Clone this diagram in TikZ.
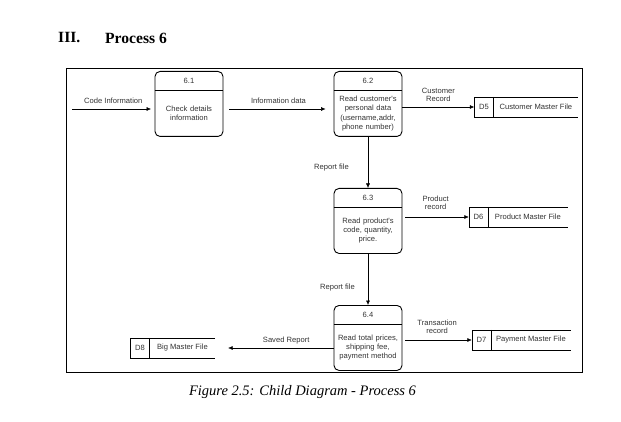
\documentclass[tikz,border=0pt]{standalone}
\usepackage{fontspec}
\setmainfont{Liberation Serif}
\newfontfamily\diafont{Liberation Sans}
\usetikzlibrary{arrows.meta,positioning,calc}
\definecolor{inkgrey}{HTML}{333333}

\begin{document}
\begin{tikzpicture}[
    x=1pt, y=-1pt,
    proc/.style={rectangle, draw=black, line width=0.9pt, rounded corners=5pt, minimum width=68pt, minimum height=65pt, inner sep=0pt},
    pnum/.style={text width=68pt, minimum height=19pt, inner sep=0pt, align=center, font=\diafont\fontsize{7.6}{9}\selectfont, text=inkgrey},
    ptxt/.style={text width=66pt, minimum height=46pt, inner sep=0pt, align=center, font=\diafont\fontsize{7.6}{9.2}\selectfont, text=inkgrey},
    sid/.style={rectangle, minimum width=19pt, minimum height=20pt, inner sep=0pt, font=\diafont\fontsize{7.6}{9}\selectfont, text=inkgrey},
    sname/.style={minimum height=20pt, inner sep=0pt, font=\diafont\fontsize{7.6}{9}\selectfont, text=inkgrey},
    sline/.style={draw=black, line width=0.5pt},
    flow/.style={-{Latex[length=4.5pt,width=4pt]}, line width=0.5pt, draw=black},
    lbl/.style={font=\diafont\fontsize{7.6}{8.6}\selectfont, text=inkgrey, align=center, inner sep=1pt}
]
  \useasboundingbox (0,0) rectangle (621,422);

  % heading and caption
  \node[anchor=west, inner sep=0pt, font=\fontsize{15.6}{18}\selectfont\bfseries] (sec) at (58,38) {III.};
  \node[anchor=west, inner sep=0pt, font=\fontsize{15.6}{18}\selectfont\bfseries] (ttl) at (105,38) {Process 6};
  \node[inner sep=0pt, font=\fontsize{14.5}{17}\selectfont\itshape] (cap) at (302.5,392) {Figure 2.5: Child Diagram - Process 6};

  % frame
  \node[draw=black, line width=1.3pt, minimum width=516pt, minimum height=304pt, inner sep=0pt, anchor=north west] (frame) at (66,68) {};

  % processes
  \node[proc, anchor=north] (p61) at (189,71) {};
  \node[pnum, below=0pt of p61.north] (n61) {6.1};
  \draw[line width=0.9pt] (n61.south -| p61.west) -- (n61.south -| p61.east);
  \node[ptxt, below=0pt of n61] (t61) {Check details\\information};

  \node[proc, anchor=north] (p62) at (368,71) {};
  \node[pnum, below=0pt of p62.north] (n62) {6.2};
  \draw[line width=0.9pt] (n62.south -| p62.west) -- (n62.south -| p62.east);
  \node[ptxt, below=0pt of n62] (t62) {Read customer's\\personal data\\(username,addr,\\phone number)};

  \node[proc, anchor=north] (p63) at (368,188) {};
  \node[pnum, below=0pt of p63.north] (n63) {6.3};
  \draw[line width=0.9pt] (n63.south -| p63.west) -- (n63.south -| p63.east);
  \node[ptxt, below=0pt of n63] (t63) {Read product's\\code, quantity,\\price.};

  \node[proc, anchor=north] (p64) at (368,305) {};
  \node[pnum, below=0pt of p64.north] (n64) {6.4};
  \draw[line width=0.9pt] (n64.south -| p64.west) -- (n64.south -| p64.east);
  \node[ptxt, below=0pt of n64] (t64) {Read total prices,\\shipping fee,\\payment method};

  % data stores (open on the right)
  \node[sid] (d5) at (484,107) {D5};
  \node[sname, minimum width=84pt, right=0pt of d5] (d5n) {Customer Master File};
  \draw[sline] (d5n.north east) -- (d5.north west) -- (d5.south west) -- (d5n.south east) (d5.north east) -- (d5.south east);

  \node[sid] (d6) at (478.5,217) {D6};
  \node[sname, minimum width=79pt, right=0pt of d6] (d6n) {Product Master File};
  \draw[sline] (d6n.north east) -- (d6.north west) -- (d6.south west) -- (d6n.south east) (d6.north east) -- (d6.south east);

  \node[sid] (d7) at (481.5,340) {D7};
  \node[sname, minimum width=79pt, right=0pt of d7] (d7n) {Payment Master File};
  \draw[sline] (d7n.north east) -- (d7.north west) -- (d7.south west) -- (d7n.south east) (d7.north east) -- (d7.south east);

  \node[sid] (d8) at (140,348) {D8};
  \node[sname, minimum width=65pt, right=0pt of d8] (d8n) {Big Master File};
  \draw[sline] (d8n.north east) -- (d8.north west) -- (d8.south west) -- (d8n.south east) (d8.north east) -- (d8.south east);

  % data flows
  \coordinate (cin) at (72,109);
  \draw[flow, shorten >=3.5pt] (cin) -- node[lbl, above=4pt] {Code Information} (cin -| p61.west);
  \draw[flow, shorten <=6pt, shorten >=8pt] (cin -| p61.east) -- node[lbl, above=4pt] {Information data} (cin -| p62.west);
  \draw[flow] (p62.east |- d5) -- node[lbl, above=4pt] {Customer\\Record} (d5.west);
  \draw[flow] (p62) -- node[lbl, left=18pt, pos=0.6] {Report file} (p63);
  \draw[flow, shorten <=3pt] (p63.east |- d6) -- node[lbl, above=6pt] {Product\\record} (d6.west);
  \draw[flow] (p63) -- node[lbl, left=12pt, pos=0.65] {Report file} (p64);
  \draw[flow, shorten <=3pt] (p64.east |- d7) -- node[lbl, above=5pt] {Transaction\\record} (d7.west);
  \draw[flow, shorten >=13pt] (p64.west |- d8n) -- node[lbl, above=3pt, pos=0.4] {Saved Report} (d8n.east);
\end{tikzpicture}
\end{document}
